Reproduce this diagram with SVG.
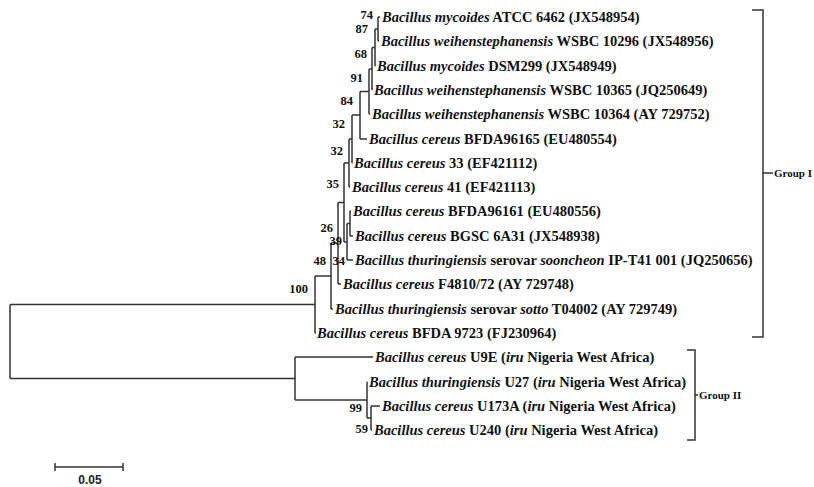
<svg xmlns="http://www.w3.org/2000/svg" width="814" height="487" viewBox="0 0 814 487">
<style>
.lf{font-family:"Liberation Serif","Times New Roman",serif;font-size:14.5px;font-weight:bold;fill:#111}
.i{font-style:italic}
.bs{font-family:"Liberation Serif","Times New Roman",serif;font-size:12.5px;font-weight:bold;fill:#111;text-anchor:end}
.br{fill:none;stroke:#333;stroke-width:1.5}
.gl{font-family:"Liberation Serif","Times New Roman",serif;font-size:11px;font-weight:bold;fill:#111}
.sc{font-family:"Liberation Sans",Arial,sans-serif;font-size:12px;font-weight:bold;fill:#222;text-anchor:middle}
</style>
<rect width="814" height="487" fill="#fff"/>
<g id="connectors" class="br">
<path d="M10 304.5V378.5M10 304.5H315M10 378.5H295"/>
<path d="M315 276V333M315 276H331M315 333H316"/>
<path d="M331 243V309M331 243H338M331 309H333"/>
<path d="M338 202.5V284M338 202.5H344M338 284H341"/>
<path d="M344 163V242M344 163H349M344 242H347"/>
<path d="M347 223.5V260M347 223.5H350M347 260H353"/>
<path d="M350 211V236M350 211H351M350 236H353"/>
<path d="M349 139V187M349 139H352M349 187H350"/>
<path d="M352 115V163M352 115H360M352 163H352.5"/>
<path d="M360 91.5V139M360 91.5H369M360 139H367"/>
<path d="M369 69V114M369 69H372M369 114H370"/>
<path d="M372 47.5V90M372 47.5H375M372 90H372.5"/>
<path d="M375 29V66M375 29H378M375 66H375.5"/>
<path d="M378 17V41M378 17H380M378 41H379"/>
<path d="M295 357V400M295 357H373M295 400H367"/>
<path d="M367 382V418M367 382H367.5M367 418H371"/>
<path d="M371 406V430M371 406H380M371 430H372"/>
<path d="M55 467H123M55 463V471M123 463V471"/>
<path d="M752 10H763V337H752M763 173H773"/>
<path d="M687 350H695V440H687M695 395H698"/>
</g>
<g id="bootstrap">
<text class="bs" x="373" y="19">74</text>
<text class="bs" x="368" y="33">87</text>
<text class="bs" x="367" y="58">68</text>
<text class="bs" x="363" y="82">91</text>
<text class="bs" x="353" y="105">84</text>
<text class="bs" x="345" y="128">32</text>
<text class="bs" x="343" y="155">32</text>
<text class="bs" x="339" y="188">35</text>
<text class="bs" x="333" y="232">26</text>
<text class="bs" x="342" y="245">39</text>
<text class="bs" x="326" y="265">48</text>
<text class="bs" x="345" y="265">34</text>
<text class="bs" x="308" y="293">100</text>
<text class="bs" x="362" y="412">99</text>
<text class="bs" x="368" y="433">59</text>
</g>
<g id="leaf1"><text class="lf" x="382" y="22"><tspan class="i">Bacillus mycoides</tspan> ATCC 6462 (JX548954)</text></g>
<g id="leaf2"><text class="lf" x="381" y="46"><tspan class="i">Bacillus weihenstephanensis</tspan> WSBC 10296 (JX548956)</text></g>
<g id="leaf3"><text class="lf" x="377" y="71"><tspan class="i">Bacillus mycoides</tspan> DSM299 (JX548949)</text></g>
<g id="leaf4"><text class="lf" x="374" y="95"><tspan class="i">Bacillus weihenstephanensis</tspan> WSBC 10365 (JQ250649)</text></g>
<g id="leaf5"><text class="lf" x="372" y="119"><tspan class="i">Bacillus weihenstephanensis</tspan> WSBC 10364 (AY 729752)</text></g>
<g id="leaf6"><text class="lf" x="369" y="144"><tspan class="i">Bacillus cereus</tspan> BFDA96165 (EU480554)</text></g>
<g id="leaf7"><text class="lf" x="354" y="168"><tspan class="i">Bacillus cereus</tspan> 33 (EF421112)</text></g>
<g id="leaf8"><text class="lf" x="352" y="192"><tspan class="i">Bacillus cereus</tspan> 41 (EF421113)</text></g>
<g id="leaf9"><text class="lf" x="353" y="216"><tspan class="i">Bacillus cereus</tspan> BFDA96161 (EU480556)</text></g>
<g id="leaf10"><text class="lf" x="355" y="241"><tspan class="i">Bacillus cereus</tspan> BGSC 6A31 (JX548938)</text></g>
<g id="leaf11"><text class="lf" x="355" y="265"><tspan class="i">Bacillus thuringiensis</tspan> serovar <tspan class="i">sooncheon</tspan> IP-T41 001 (JQ250656)</text></g>
<g id="leaf12"><text class="lf" x="343" y="289"><tspan class="i">Bacillus cereus</tspan> F4810/72 (AY 729748)</text></g>
<g id="leaf13"><text class="lf" x="335" y="314"><tspan class="i">Bacillus thuringiensis</tspan> serovar <tspan class="i">sotto</tspan> T04002 (AY 729749)</text></g>
<g id="leaf14"><text class="lf" x="317" y="338"><tspan class="i">Bacillus cereus</tspan> BFDA 9723 (FJ230964)</text></g>
<g id="leaf15"><text class="lf" x="375" y="362"><tspan class="i">Bacillus cereus</tspan> U9E (<tspan class="i">iru</tspan> Nigeria West Africa)</text></g>
<g id="leaf16"><text class="lf" x="369" y="387"><tspan class="i">Bacillus thuringiensis</tspan> U27 (<tspan class="i">iru</tspan> Nigeria West Africa)</text></g>
<g id="leaf17"><text class="lf" x="382" y="411"><tspan class="i">Bacillus cereus</tspan> U173A (<tspan class="i">iru</tspan> Nigeria West Africa)</text></g>
<g id="leaf18"><text class="lf" x="374" y="435"><tspan class="i">Bacillus cereus</tspan> U240 (<tspan class="i">iru</tspan> Nigeria West Africa)</text></g>
<g id="group1"><text class="gl" x="774" y="177">Group I</text></g>
<g id="group2"><text class="gl" x="699" y="399">Group II</text></g>
<g id="scale"><text class="sc" x="90" y="484">0.05</text></g>
</svg>
